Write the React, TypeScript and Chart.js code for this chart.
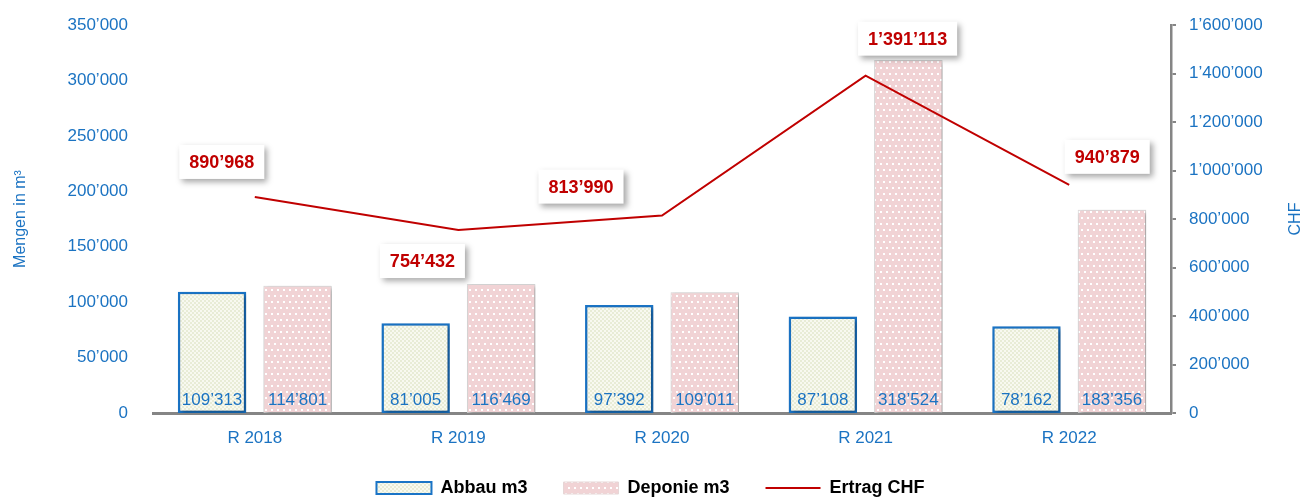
import React, { useEffect, useRef } from 'react';
import { Chart, registerables } from 'chart.js';

Chart.register(...registerables);

const categories = ['R 2018', 'R 2019', 'R 2020', 'R 2021', 'R 2022'];
const abbau = [109313, 81005, 97392, 87108, 78162];
const deponie = [114801, 116469, 109011, 318524, 183356];
const ertrag = [890968, 754432, 813990, 1391113, 940879];
const seriesNames = ['Abbau m3', 'Deponie m3', 'Ertrag CHF'];
const leftAxis = { min: 0, max: 350000, step: 50000, title: 'Mengen in m\u00b3' };
const rightAxis = { min: 0, max: 1600000, step: 200000, title: 'CHF' };
// label box offsets (px) relative to each line point
const ertragLabelOffsets = [[-33, -35], [-36, 31], [-81, -29], [42, -37], [38, -28]];

const FONT = "'Liberation Sans', Arial, sans-serif";
const BLUE = '#1b73c2';
const RED = '#c00000';
const GRAY = '#858585';

const fmt = (v: number) => Math.round(v).toString().replace(/\B(?=(\d{3})+(?!\d))/g, '\u2019');

function makeAbbauPattern(): CanvasPattern | string {
  const c = document.createElement('canvas');
  c.width = 4; c.height = 4;
  const g = c.getContext('2d');
  if (!g) return '#f2f4e4';
  g.fillStyle = '#f8f9f0';
  g.fillRect(0, 0, 4, 4);
  g.fillStyle = '#e8ecd6';
  g.fillRect(0, 0, 2, 2);
  g.fillRect(2, 2, 2, 2);
  return g.createPattern(c, 'repeat') || '#f2f4e4';
}

function makeDeponiePattern(): CanvasPattern | string {
  const c = document.createElement('canvas');
  c.width = 12; c.height = 12;
  const g = c.getContext('2d');
  if (!g) return '#f2d3d5';
  g.fillStyle = '#f1d3d5';
  g.fillRect(0, 0, 12, 12);
  g.fillStyle = '#ffffff';
  g.fillRect(1, 1, 2, 2);
  g.fillRect(7, 1, 2, 2);
  g.fillRect(4, 7, 2, 2);
  g.fillRect(10, 7, 2, 2);
  return g.createPattern(c, 'repeat') || '#f2d3d5';
}

export default function App() {
  const ref = useRef<HTMLCanvasElement | null>(null);

  useEffect(() => {
    const canvas = ref.current;
    if (!canvas) return;
    const abbauFill = makeAbbauPattern();
    const deponieFill = makeDeponiePattern();

    const barShadow = {
      id: 'barShadow',
      beforeDatasetDraw(chart: any, args: any) {
        if (args.meta.type === 'bar') {
          const ctx = chart.ctx;
          ctx.save();
          ctx.shadowColor = 'rgba(0,0,0,0.35)';
          ctx.shadowBlur = 4;
          ctx.shadowOffsetX = 2;
          ctx.shadowOffsetY = 2;
        }
      },
      afterDatasetDraw(chart: any, args: any) {
        if (args.meta.type === 'bar') chart.ctx.restore();
      },
    };

    const labels = {
      id: 'valueLabels',
      afterDatasetsDraw(chart: any) {
        const ctx = chart.ctx;
        const bottom = chart.chartArea.bottom;
        ctx.save();
        ctx.font = `17px ${FONT}`;
        ctx.fillStyle = BLUE;
        ctx.textAlign = 'center';
        ctx.textBaseline = 'alphabetic';
        [0, 1].forEach((di) => {
          const meta = chart.getDatasetMeta(di);
          meta.data.forEach((el: any, i: number) => {
            const v = chart.data.datasets[di].data[i] as number;
            ctx.fillText(fmt(v), el.x, bottom - 8);
          });
        });
        const lm = chart.getDatasetMeta(2);
        ctx.font = `bold 18px ${FONT}`;
        lm.data.forEach((pt: any, i: number) => {
          const v = chart.data.datasets[2].data[i] as number;
          const t = fmt(v);
          const [dx, dy] = ertragLabelOffsets[i];
          const cx = pt.x + dx;
          const cy = pt.y + dy;
          const w = ctx.measureText(t).width + 20;
          const h = 34;
          ctx.save();
          ctx.shadowColor = 'rgba(0,0,0,0.35)';
          ctx.shadowBlur = 6;
          ctx.shadowOffsetX = 3;
          ctx.shadowOffsetY = 3;
          ctx.fillStyle = '#ffffff';
          ctx.fillRect(cx - w / 2, cy - h / 2, w, h);
          ctx.restore();
          ctx.fillStyle = RED;
          ctx.textBaseline = 'middle';
          ctx.fillText(t, cx, cy + 1);
        });
        ctx.restore();
      },
      afterDraw(chart: any) {
        const ctx = chart.ctx;
        const a = chart.chartArea;
        ctx.save();
        ctx.translate(1296, (a.top + a.bottom) / 2);
        ctx.rotate(-Math.PI / 2);
        ctx.font = `16px ${FONT}`;
        ctx.fillStyle = BLUE;
        ctx.textAlign = 'center';
        ctx.textBaseline = 'middle';
        ctx.fillText(rightAxis.title, 0, 0);
        ctx.restore();
      },
    };

    const chart = new Chart(canvas, {
      type: 'bar',
      data: {
        labels: categories,
        datasets: [
          {
            type: 'bar',
            label: seriesNames[0],
            data: abbau,
            backgroundColor: abbauFill as any,
            borderColor: '#1a74c6',
            borderWidth: 2.5,
            borderSkipped: false,
            categoryPercentage: 0.84,
            barPercentage: 0.8,
            yAxisID: 'y',
            order: 1,
          },
          {
            type: 'bar',
            label: seriesNames[1],
            data: deponie,
            backgroundColor: deponieFill as any,
            borderColor: 'rgba(215,215,215,0.9)',
            borderWidth: 1,
            borderSkipped: false,
            categoryPercentage: 0.84,
            barPercentage: 0.8,
            yAxisID: 'y',
            order: 1,
          },
          {
            type: 'line',
            label: seriesNames[2],
            data: ertrag,
            borderColor: RED,
            backgroundColor: RED,
            borderWidth: 2,
            pointRadius: 0,
            tension: 0,
            yAxisID: 'y2',
            order: 0,
          } as any,
        ],
      },
      options: {
        responsive: false,
        animation: false,
        devicePixelRatio: 1,
        layout: { padding: { top: 25, left: 0, right: 0, bottom: -10 } },
        plugins: {
          tooltip: { enabled: false },
          legend: {
            position: 'bottom',
            labels: {
              usePointStyle: true,
              pointStyleWidth: 55,
              boxHeight: 12,
              padding: 36,
              color: '#000000',
              font: { family: FONT, size: 18, weight: 'bold' },
              sort: (a: any, b: any) => a.datasetIndex - b.datasetIndex,
              generateLabels: (chart: any) =>
                chart.data.datasets.map((ds: any, i: number) => ({
                  text: ds.label,
                  datasetIndex: i,
                  fillStyle: i === 2 ? RED : ds.backgroundColor,
                  strokeStyle: i === 0 ? '#1a74c6' : i === 1 ? 'rgba(230,215,215,1)' : RED,
                  lineWidth: i === 0 ? 2 : i === 1 ? 1 : 2,
                  pointStyle: i === 2 ? 'line' : 'rect',
                  fontColor: '#000000',
                  hidden: false,
                })),
            },
          },
        },
        scales: {
          x: {
            grid: { display: false, drawTicks: false },
            border: { display: true, color: GRAY, width: 3 },
            ticks: { color: BLUE, font: { family: FONT, size: 17 }, padding: 15 },
            afterFit: (s: any) => { s.height = 30; },
          },
          y: {
            position: 'left',
            min: leftAxis.min,
            max: leftAxis.max,
            grid: { display: false, drawTicks: true, tickLength: 15 },
            border: { display: false },
            ticks: {
              stepSize: leftAxis.step,
              color: BLUE,
              font: { family: FONT, size: 17 },
              padding: 10,
              callback: (v: any) => fmt(Number(v)),
            },
            title: {
              display: true,
              text: leftAxis.title,
              color: BLUE,
              font: { family: FONT, size: 16 },
              padding: { top: 11, bottom: 0 },
            },
            afterFit: (s: any) => { s.width = 153; },
          },
          y2: {
            position: 'right',
            min: rightAxis.min,
            max: rightAxis.max,
            grid: { display: true, drawOnChartArea: false, color: GRAY, lineWidth: 2, tickLength: 5 },
            border: { display: true, color: GRAY, width: 2.5 },
            ticks: {
              stepSize: rightAxis.step,
              color: BLUE,
              font: { family: FONT, size: 17 },
              padding: 13,
              callback: (v: any) => fmt(Number(v)),
            },
            afterFit: (s: any) => { s.width = 130; },
          },
        },
      },
      plugins: [barShadow, labels],
    });
    return () => chart.destroy();
  }, []);

  return (
    <div style={{ position: 'fixed', left: 0, top: 0, width: 1301, height: 497, background: '#ffffff' }}>
      <canvas ref={ref} width={1301} height={497} style={{ display: 'block', width: 1301, height: 497 }} />
    </div>
  );
}
